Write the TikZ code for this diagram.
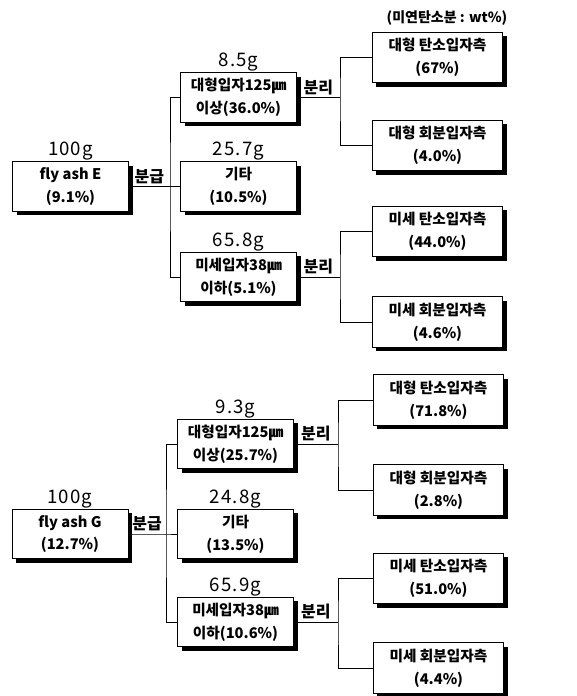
\documentclass[tikz,border=0pt]{standalone}
\usepackage{fontspec}
\setmainfont{Noto Sans CJK KR}
\newfontfamily\massfont{Noto Sans CJK KR}[LetterSpace=6]

\begin{document}
\begin{tikzpicture}[x=0.75pt,y=-0.75pt,
    box/.style={draw,fill=white,align=center,inner sep=1pt,line width=0.6pt,
      preaction={fill=black,transform canvas={xshift=3pt,yshift=-3pt}},
      font=\bfseries\fontsize{11}{17}\selectfont},
    midbox/.style={box,minimum width=87pt,minimum height=37pt},
    endbox/.style={box,minimum width=98pt,minimum height=38pt},
    mass/.style={font=\massfont\fontsize{14}{14}\selectfont,inner sep=0.5pt},
    act/.style={font=\bfseries\fontsize{12}{12}\selectfont,inner sep=2pt}]

    \useasboundingbox (0,0) rectangle (576,696);

    %단위 표시
    \node[font=\bfseries\fontsize{10.5}{10.5}\selectfont] (unit) at (447,18) {(미연탄소분 : wt\%)};

    %fly ash E
    \node[midbox,label={[mass]above:100g}] (ashE) at (70.5,186.5) {fly ash E\\(9.1\%)};
    \node[midbox,label={[mass]above:8.5g}] (coarseE) at (238.5,97.5) {대형입자125㎛\\이상(36.0\%)};
    \node[midbox,label={[mass]above:25.7g}] (otherE) at (238.5,186.5) {기타\\(10.5\%)};
    \node[midbox,label={[mass]above:65.8g}] (fineE) at (238.5,277) {미세입자38㎛\\이하(5.1\%)};
    \node[endbox] (cCarbE) at (437.5,57.5) {대형 탄소입자측\\(67\%)};
    \node[endbox] (cAshE) at (437.5,145.5) {대형 회분입자측\\(4.0\%)};
    \node[endbox] (fCarbE) at (437.5,231.5) {미세 탄소입자측\\(44.0\%)};
    \node[endbox] (fAshE) at (437.5,322) {미세 회분입자측\\(4.6\%)};

    \coordinate (splitE) at (170,186.5);
    \coordinate (sepCE) at (340,97.5);
    \coordinate (sepFE) at (340,277);

    \draw (ashE) -- node[act,above]{분급} (splitE) -- (otherE);
    \draw (coarseE.west) -| (splitE) |- (fineE.west);
    \draw (coarseE) -- node[act,above]{분리} (sepCE);
    \draw (cCarbE.west) -| (sepCE) |- (cAshE.west);
    \draw (fineE) -- node[act,above]{분리} (sepFE);
    \draw (fCarbE.west) -| (sepFE) |- (fAshE.west);

    %fly ash G
    \node[midbox,label={[mass]above:100g}] (ashG) at (70,534) {fly ash G\\(12.7\%)};
    \node[midbox,label={[mass]above:9.3g}] (coarseG) at (235.5,444) {대형입자125㎛\\이상(25.7\%)};
    \node[midbox,label={[mass]above:24.8g}] (otherG) at (235.5,534) {기타\\(13.5\%)};
    \node[midbox,label={[mass]above:65.9g}] (fineG) at (235.5,622) {미세입자38㎛\\이하(10.6\%)};
    \node[endbox] (cCarbG) at (438.5,400) {대형 탄소입자측\\(71.8\%)};
    \node[endbox] (cAshG) at (438.5,490) {대형 회분입자측\\(2.8\%)};
    \node[endbox] (fCarbG) at (438.5,578.5) {미세 탄소입자측\\(51.0\%)};
    \node[endbox] (fAshG) at (438.5,668) {미세 회분입자측\\(4.4\%)};

    \coordinate (splitG) at (166,534);
    \coordinate (sepCG) at (338,444);
    \coordinate (sepFG) at (338,622);

    \draw (ashG) -- node[act,above]{분급} (splitG) -- (otherG);
    \draw (coarseG.west) -| (splitG) |- (fineG.west);
    \draw (coarseG) -- node[act,above]{분리} (sepCG);
    \draw (cCarbG.west) -| (sepCG) |- (cAshG.west);
    \draw (fineG) -- node[act,above]{분리} (sepFG);
    \draw (fCarbG.west) -| (sepFG) |- (fAshG.west);

\end{tikzpicture}
\end{document}
